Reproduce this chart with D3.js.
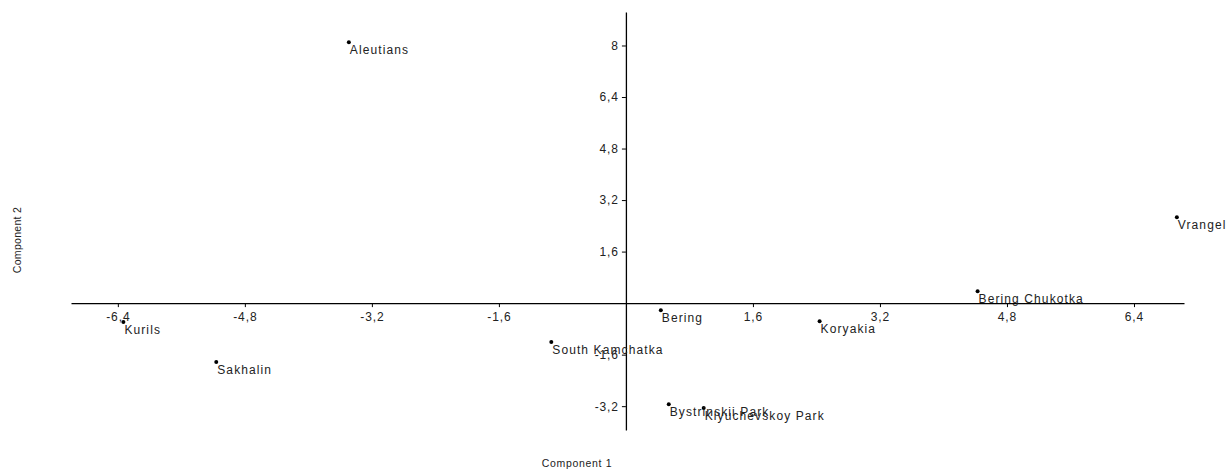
<!DOCTYPE html>
<html><head><meta charset="utf-8">
<script src="https://cdn.jsdelivr.net/npm/d3@7"></script>
<style>
body{margin:0;background:#fff;}
svg{display:block;font-family:"Liberation Sans",Arial,sans-serif;}
</style></head>
<body><svg id="c" width="1230" height="470"></svg>
<script>
const names = ["Aleutians","Kurils","Sakhalin","South Kamchatka","Bering","Bystrinskii Park","Klyuchevskoy Park","Koryakia","Bering Chukotka","Vrangel"];
const comp1 = [-3.49,-6.33,-5.16,-0.94,0.44,0.54,0.98,2.44,4.43,6.94];
const comp2 = [8.10,-0.59,-1.83,-1.21,-0.22,-3.14,-3.26,-0.56,0.37,2.67];
const xTicks = [-6.4,-4.8,-3.2,-1.6,1.6,3.2,4.8,6.4];
const yTicks = [-3.2,-1.6,1.6,3.2,4.8,6.4,8];
const xTitle = "Component 1", yTitle = "Component 2";

const svg = d3.select("#c");
const x = d3.scaleLinear().domain([-6.99,7.03]).range([71,1184]);
const y = d3.scaleLinear().domain([9.04,-3.94]).range([12,430]);
const fmt = d => String(d).replace(".", ",");

const xa = svg.append("g").attr("transform",`translate(0,${y(0)})`)
  .call(d3.axisBottom(x).tickValues(xTicks).tickFormat(fmt).tickSize(4).tickSizeOuter(0));
const ya = svg.append("g").attr("transform",`translate(${x(0)},0)`)
  .call(d3.axisLeft(y).tickValues(yTicks).tickFormat(fmt).tickSize(4).tickSizeOuter(0));
[xa,ya].forEach(a=>{
  a.select(".domain").attr("stroke","#000").attr("stroke-width",1.3);
  a.selectAll(".tick line").attr("stroke","#000");
  a.selectAll(".tick text").attr("fill","#222").style("font-size","12px")
    .style("letter-spacing","0.9px").style("font-family","'Liberation Sans',Arial,sans-serif");
});
xa.selectAll(".tick text").attr("dy","0.9em").attr("y",7);
ya.selectAll(".tick text").attr("x",-7);

const data = names.map((n,i)=>({n, a:comp1[i], b:comp2[i]}));
svg.append("g").selectAll("circle").data(data).join("circle")
  .attr("cx",d=>x(d.a)).attr("cy",d=>y(d.b)).attr("r",2).attr("fill","#000");
svg.append("g").selectAll("text").data(data).join("text")
  .attr("x",d=>x(d.a)+1).attr("y",d=>y(d.b)+12)
  .attr("fill","#222").style("font-size","12px").style("letter-spacing","1.1px").text(d=>d.n);

svg.append("text").attr("x",577).attr("y",467).attr("text-anchor","middle")
  .attr("fill","#222").style("font-size","10.5px").style("letter-spacing","0.7px").text(xTitle);
svg.append("text").attr("transform","translate(21,240) rotate(-90)").attr("text-anchor","middle")
  .attr("fill","#222").style("font-size","10.5px").style("letter-spacing","0.3px").text(yTitle);
</script></body></html>
